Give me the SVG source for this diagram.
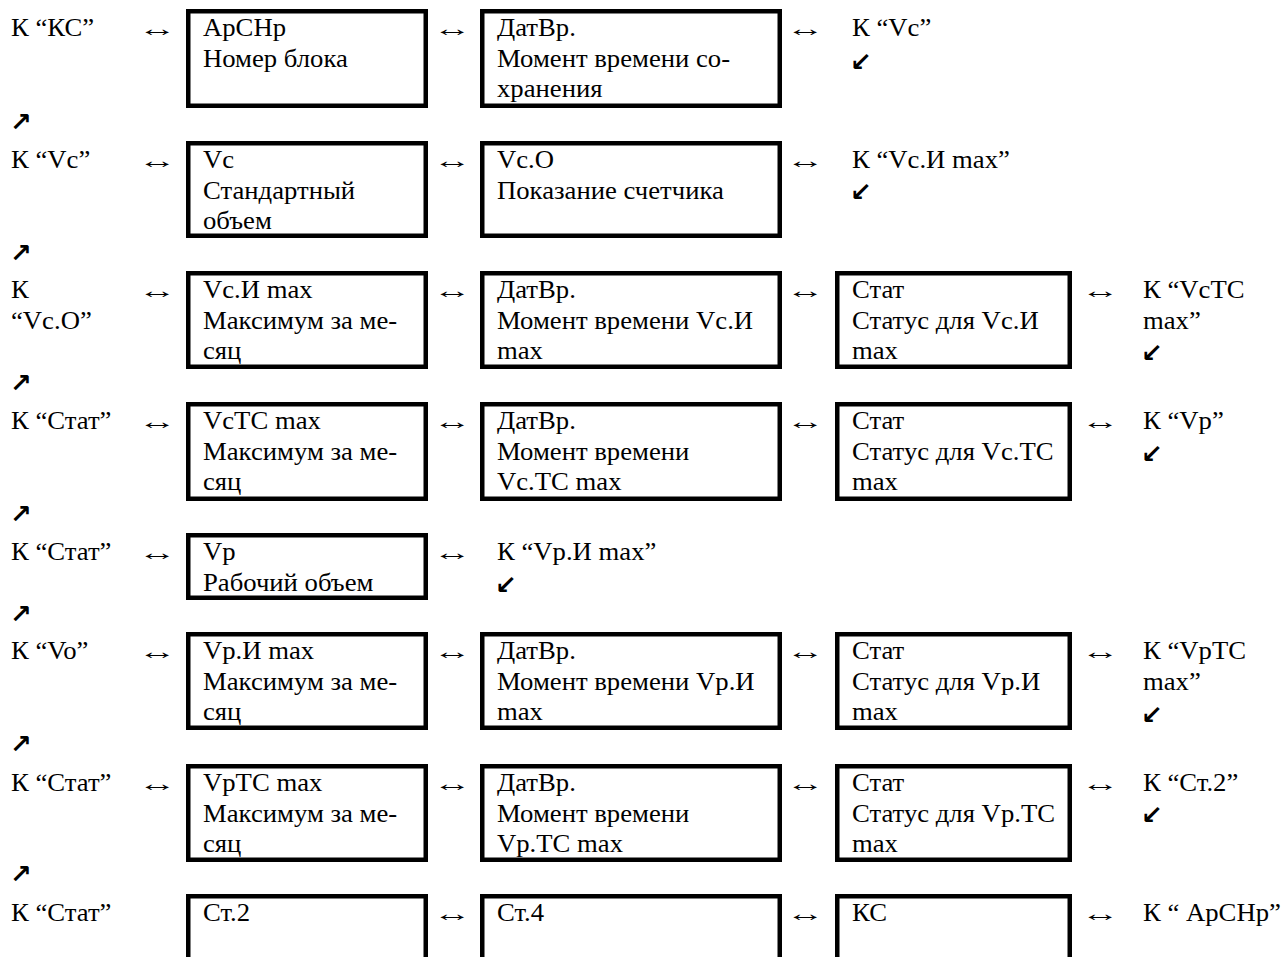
<svg xmlns="http://www.w3.org/2000/svg" width="1282" height="957" viewBox="0 0 1282 957">
<style>
  text{font-family:"Liberation Serif","Times New Roman",serif;font-size:24.5px;fill:#000}
  .lr{font-size:23px}
  .box{fill:#fff;stroke:#000;stroke-width:4.5}
  .arw{font-family:"DejaVu Sans",sans-serif;font-weight:bold;font-size:26px}
</style>
<rect width="1282" height="957" fill="#fff"/>

<g id="connectors">
  <text class="lr" transform="matrix(1.7 0 0 1 138 36)">↔</text>
  <text class="lr" transform="matrix(1.7 0 0 1 433 36)">↔</text>
  <text class="lr" transform="matrix(1.7 0 0 1 786 36)">↔</text>
  <text class="lr" transform="matrix(1.7 0 0 1 138 168)">↔</text>
  <text class="lr" transform="matrix(1.7 0 0 1 433 168)">↔</text>
  <text class="lr" transform="matrix(1.7 0 0 1 786 168)">↔</text>
  <text class="lr" transform="matrix(1.7 0 0 1 138 298)">↔</text>
  <text class="lr" transform="matrix(1.7 0 0 1 433 298)">↔</text>
  <text class="lr" transform="matrix(1.7 0 0 1 786 298)">↔</text>
  <text class="lr" transform="matrix(1.7 0 0 1 1081 298)">↔</text>
  <text class="lr" transform="matrix(1.7 0 0 1 138 429)">↔</text>
  <text class="lr" transform="matrix(1.7 0 0 1 433 429)">↔</text>
  <text class="lr" transform="matrix(1.7 0 0 1 786 429)">↔</text>
  <text class="lr" transform="matrix(1.7 0 0 1 1081 429)">↔</text>
  <text class="lr" transform="matrix(1.7 0 0 1 138 560)">↔</text>
  <text class="lr" transform="matrix(1.7 0 0 1 433 560)">↔</text>
  <text class="lr" transform="matrix(1.7 0 0 1 138 659)">↔</text>
  <text class="lr" transform="matrix(1.7 0 0 1 433 659)">↔</text>
  <text class="lr" transform="matrix(1.7 0 0 1 786 659)">↔</text>
  <text class="lr" transform="matrix(1.7 0 0 1 1081 659)">↔</text>
  <text class="lr" transform="matrix(1.7 0 0 1 138 791)">↔</text>
  <text class="lr" transform="matrix(1.7 0 0 1 433 791)">↔</text>
  <text class="lr" transform="matrix(1.7 0 0 1 786 791)">↔</text>
  <text class="lr" transform="matrix(1.7 0 0 1 1081 791)">↔</text>
  <text class="lr" transform="matrix(1.7 0 0 1 433 921)">↔</text>
  <text class="lr" transform="matrix(1.7 0 0 1 786 921)">↔</text>
  <text class="lr" transform="matrix(1.7 0 0 1 1081 921)">↔</text>
  <text class="arw" x="10" y="131">↗</text>
  <text class="arw" x="10" y="262">↗</text>
  <text class="arw" x="10" y="392">↗</text>
  <text class="arw" x="10" y="523">↗</text>
  <text class="arw" x="10" y="623">↗</text>
  <text class="arw" x="10" y="753">↗</text>
  <text class="arw" x="10" y="883">↗</text>
  <text class="arw" x="850" y="71">↙</text>
  <text class="arw" x="850" y="201">↙</text>
  <text class="arw" x="1141" y="362">↙</text>
  <text class="arw" x="1141" y="463">↙</text>
  <text class="arw" x="495" y="594">↙</text>
  <text class="arw" x="1141" y="724">↙</text>
  <text class="arw" x="1141" y="824">↙</text>
</g>

<g id="l1"><text transform="matrix(1.09 0 0 1 11 36)">К “КС”</text></g>
<g id="l2"><text transform="matrix(1.09 0 0 1 11 168)">К “Vc”</text></g>
<g id="l3"><text transform="matrix(1.09 0 0 1 11 298)">К</text><text transform="matrix(1.09 0 0 1 11 328.5)">“Vc.O”</text></g>
<g id="l4"><text transform="matrix(1.09 0 0 1 11 429)">К “Стат”</text></g>
<g id="l5"><text transform="matrix(1.09 0 0 1 11 560)">К “Стат”</text></g>
<g id="l6"><text transform="matrix(1.09 0 0 1 11 659)">К “Vo”</text></g>
<g id="l7"><text transform="matrix(1.09 0 0 1 11 791)">К “Стат”</text></g>
<g id="l8"><text transform="matrix(1.09 0 0 1 11 921)">К “Стат”</text></g>

<g id="r1"><text transform="matrix(1.09 0 0 1 852 36)">К “Vc”</text></g>
<g id="r2"><text transform="matrix(1.09 0 0 1 852 168)">К “Vc.И max”</text></g>
<g id="r3"><text transform="matrix(1.09 0 0 1 1143 298)">К “VcTC</text><text transform="matrix(1.09 0 0 1 1143 328.5)">max”</text></g>
<g id="r4"><text transform="matrix(1.09 0 0 1 1143 429)">К “Vp”</text></g>
<g id="r5"><text transform="matrix(1.09 0 0 1 497 560)">К “Vp.И max”</text></g>
<g id="r6"><text transform="matrix(1.09 0 0 1 1143 659)">К “VpTC</text><text transform="matrix(1.09 0 0 1 1143 689.5)">max”</text></g>
<g id="r7"><text transform="matrix(1.09 0 0 1 1143 791)">К “Ст.2”</text></g>
<g id="r8"><text transform="matrix(1.09 0 0 1 1143 921)">К “ АрСНр”</text></g>

<g id="n1a"><rect class="box" x="188.25" y="11.25" width="237.5" height="94.5"/><text transform="matrix(1.09 0 0 1 203 36)">АрСНр</text><text transform="matrix(1.09 0 0 1 203 66.5)">Номер блока</text></g>
<g id="n1b"><rect class="box" x="482.25" y="11.25" width="297.5" height="94.5"/><text transform="matrix(1.09 0 0 1 497 36)">ДатВр.</text><text transform="matrix(1.09 0 0 1 497 66.5)">Момент времени со-</text><text transform="matrix(1.09 0 0 1 497 97)">хранения</text></g>

<g id="n2a"><rect class="box" x="188.25" y="143.25" width="237.5" height="92.5"/><text transform="matrix(1.09 0 0 1 203 168)">Vc</text><text transform="matrix(1.09 0 0 1 203 198.5)">Стандартный</text><text transform="matrix(1.09 0 0 1 203 229)">объем</text></g>
<g id="n2b"><rect class="box" x="482.25" y="143.25" width="297.5" height="92.5"/><text transform="matrix(1.09 0 0 1 497 168)">Vc.O</text><text transform="matrix(1.09 0 0 1 497 198.5)">Показание счетчика</text></g>

<g id="n3a"><rect class="box" x="188.25" y="273.25" width="237.5" height="93.5"/><text transform="matrix(1.09 0 0 1 203 298)">Vc.И max</text><text transform="matrix(1.09 0 0 1 203 328.5)">Максимум за ме-</text><text transform="matrix(1.09 0 0 1 203 359)">сяц</text></g>
<g id="n3b"><rect class="box" x="482.25" y="273.25" width="297.5" height="93.5"/><text transform="matrix(1.09 0 0 1 497 298)">ДатВр.</text><text transform="matrix(1.09 0 0 1 497 328.5)">Момент времени Vc.И</text><text transform="matrix(1.09 0 0 1 497 359)">max</text></g>
<g id="n3c"><rect class="box" x="837.25" y="273.25" width="232.5" height="93.5"/><text transform="matrix(1.09 0 0 1 852 298)">Стат</text><text transform="matrix(1.09 0 0 1 852 328.5)">Статус для Vc.И</text><text transform="matrix(1.09 0 0 1 852 359)">max</text></g>

<g id="n4a"><rect class="box" x="188.25" y="404.25" width="237.5" height="94.5"/><text transform="matrix(1.09 0 0 1 203 429)">VcTC max</text><text transform="matrix(1.09 0 0 1 203 459.5)">Максимум за ме-</text><text transform="matrix(1.09 0 0 1 203 490)">сяц</text></g>
<g id="n4b"><rect class="box" x="482.25" y="404.25" width="297.5" height="94.5"/><text transform="matrix(1.09 0 0 1 497 429)">ДатВр.</text><text transform="matrix(1.09 0 0 1 497 459.5)">Момент времени</text><text transform="matrix(1.09 0 0 1 497 490)">Vc.TC max</text></g>
<g id="n4c"><rect class="box" x="837.25" y="404.25" width="232.5" height="94.5"/><text transform="matrix(1.09 0 0 1 852 429)">Стат</text><text transform="matrix(1.09 0 0 1 852 459.5)">Статус для Vc.TC</text><text transform="matrix(1.09 0 0 1 852 490)">max</text></g>

<g id="n5a"><rect class="box" x="188.25" y="535.25" width="237.5" height="62.5"/><text transform="matrix(1.09 0 0 1 203 560)">Vp</text><text transform="matrix(1.09 0 0 1 203 590.5)">Рабочий объем</text></g>

<g id="n6a"><rect class="box" x="188.25" y="634.25" width="237.5" height="93.5"/><text transform="matrix(1.09 0 0 1 203 659)">Vp.И max</text><text transform="matrix(1.09 0 0 1 203 689.5)">Максимум за ме-</text><text transform="matrix(1.09 0 0 1 203 720)">сяц</text></g>
<g id="n6b"><rect class="box" x="482.25" y="634.25" width="297.5" height="93.5"/><text transform="matrix(1.09 0 0 1 497 659)">ДатВр.</text><text transform="matrix(1.09 0 0 1 497 689.5)">Момент времени Vp.И</text><text transform="matrix(1.09 0 0 1 497 720)">max</text></g>
<g id="n6c"><rect class="box" x="837.25" y="634.25" width="232.5" height="93.5"/><text transform="matrix(1.09 0 0 1 852 659)">Стат</text><text transform="matrix(1.09 0 0 1 852 689.5)">Статус для Vp.И</text><text transform="matrix(1.09 0 0 1 852 720)">max</text></g>

<g id="n7a"><rect class="box" x="188.25" y="766.25" width="237.5" height="93.5"/><text transform="matrix(1.09 0 0 1 203 791)">VpTC max</text><text transform="matrix(1.09 0 0 1 203 821.5)">Максимум за ме-</text><text transform="matrix(1.09 0 0 1 203 852)">сяц</text></g>
<g id="n7b"><rect class="box" x="482.25" y="766.25" width="297.5" height="93.5"/><text transform="matrix(1.09 0 0 1 497 791)">ДатВр.</text><text transform="matrix(1.09 0 0 1 497 821.5)">Момент времени</text><text transform="matrix(1.09 0 0 1 497 852)">Vp.TC max</text></g>
<g id="n7c"><rect class="box" x="837.25" y="766.25" width="232.5" height="93.5"/><text transform="matrix(1.09 0 0 1 852 791)">Стат</text><text transform="matrix(1.09 0 0 1 852 821.5)">Статус для Vp.TC</text><text transform="matrix(1.09 0 0 1 852 852)">max</text></g>

<g id="n8a"><rect class="box" x="188.25" y="896.25" width="237.5" height="100"/><text transform="matrix(1.09 0 0 1 203 921)">Ст.2</text></g>
<g id="n8b"><rect class="box" x="482.25" y="896.25" width="297.5" height="100"/><text transform="matrix(1.09 0 0 1 497 921)">Ст.4</text></g>
<g id="n8c"><rect class="box" x="837.25" y="896.25" width="232.5" height="100"/><text transform="matrix(1.09 0 0 1 852 921)">КС</text></g>
</svg>
